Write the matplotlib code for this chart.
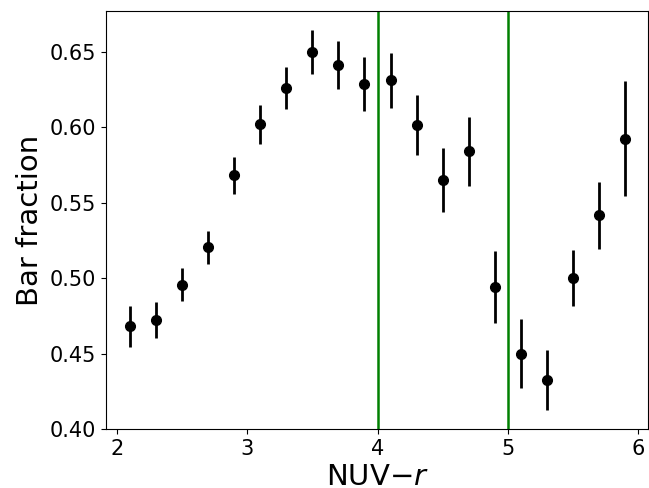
import matplotlib

matplotlib.use("Agg")

import matplotlib.pyplot as plt

# bar fraction per NUV-r colour bin
nuv_r = [2.1, 2.3, 2.5, 2.7, 2.9, 3.1, 3.3, 3.5, 3.7, 3.9,
         4.1, 4.3, 4.5, 4.7, 4.9, 5.1, 5.3, 5.5, 5.7, 5.9]
bar_frac = [0.468, 0.472, 0.4955, 0.5205, 0.568, 0.602, 0.626, 0.650, 0.641, 0.6285,
            0.631, 0.6015, 0.565, 0.584, 0.494, 0.450, 0.4325, 0.500, 0.5415, 0.5925]
bar_err = [0.0135, 0.012, 0.011, 0.011, 0.012, 0.013, 0.014, 0.0145, 0.016, 0.018,
           0.018, 0.020, 0.021, 0.023, 0.024, 0.023, 0.020, 0.0185, 0.022, 0.038]
divisions = [4.0, 5.0]

fig = plt.figure(figsize=(6.49, 4.88), dpi=100)
ax = fig.add_axes([106 / 649, 1 - 429 / 488, 542 / 649, 418 / 488])

ax.errorbar(nuv_r, bar_frac, yerr=bar_err, fmt="o", color="black",
            markersize=7, elinewidth=2, capsize=0)
for xv in divisions:
    ax.axvline(xv, color="green", linewidth=1.8)

ax.set_xlim(1.915, 6.077)
ax.set_ylim(0.40, 0.677)
ax.set_xticks([2, 3, 4, 5, 6])
ax.set_yticks([0.40, 0.45, 0.50, 0.55, 0.60, 0.65])
ax.tick_params(labelsize=15)
ax.set_xlabel(r"NUV$-r$", fontsize=21, labelpad=3)
ax.set_ylabel("Bar fraction", fontsize=21)

fig.savefig("out.png", dpi=100)
